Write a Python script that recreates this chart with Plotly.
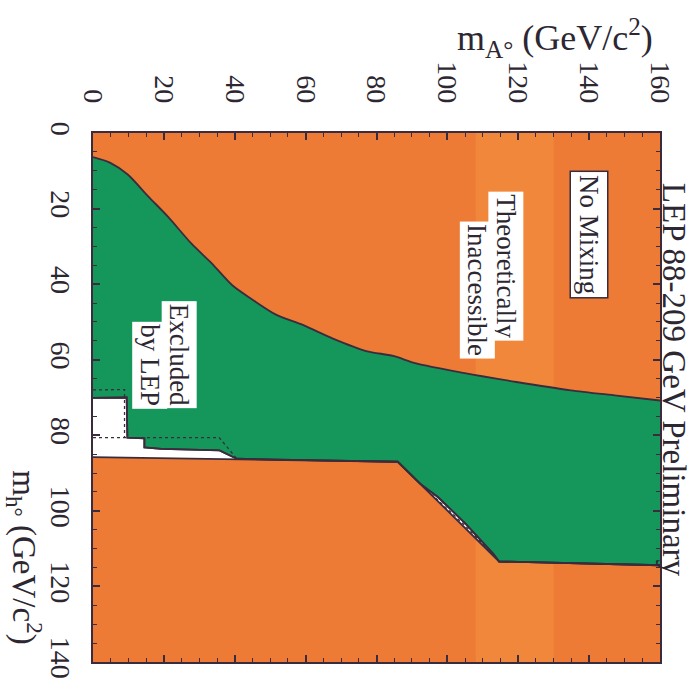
import plotly.graph_objects as go

# ---- data (m_A on horizontal axis, m_h on vertical axis, GeV/c^2) ----
# theoretical boundary (upper edge of the excluded area)
ma_upper = [0, 4.9, 9.8, 15.5, 21.2, 27.8, 33.5, 39.3, 45.0, 51.5, 59.2, 67.7,
            77.1, 84.7, 91.2, 104.5, 119.5, 134.8, 147.8, 160]
mh_upper = [6.4, 7.9, 11.0, 16.7, 22.2, 29.3, 34.5, 40.3, 44.1, 48.0, 50.8, 54.4,
            57.7, 59.0, 61.0, 63.5, 65.9, 68.1, 69.5, 70.8]

# observed LEP exclusion boundary (solid line, lower edge of green)
ma_obs = [0, 9.5, 9.7, 14.5, 14.5, 19.3, 35.7, 40.5, 59.7, 86.0, 92.3, 97.4,
          105.1, 112.9, 114.6, 160]
mh_obs = [70.1, 70.0, 80.6, 80.8, 83.2, 83.6, 84.0, 86.2, 86.6, 87.0, 92.8, 96.4,
          103.4, 111.3, 113.4, 114.4]

# theoretical maximum of m_h (upper edge of lower inaccessible area)
ma_max = [0, 59.7, 86.0, 114.6, 160]
mh_max = [85.8, 86.6, 87.0, 113.4, 114.4]

# expected exclusion (dashed)
ma_exp = [0, 8.9, 8.9, None, 0, 35.6, 40.5, None, 93.0, 105.1, 112.0]
mh_exp = [68.0, 67.9, 80.6, None, 80.6, 80.6, 86.1, None, 93.4, 104.0, 110.7]

# lighter band in the inaccessible region
band_ma = [108, 130]

x_ticks = [0, 20, 40, 60, 80, 100, 120, 140, 160]
y_ticks = [0, 20, 40, 60, 80, 100, 120, 140]

ORANGE = "#EE7B35"
BAND = "#F0873A"
GREEN = "#15975B"
DARK = "#3a2c3c"
TXT = "#2d2732"
FONT = "Liberation Serif"

fig = go.Figure()

# allowed (white) region between observed limit and theoretical max
fig.add_trace(go.Scatter(
    x=ma_obs + ma_max[::-1], y=mh_obs + mh_max[::-1],
    mode="lines", fill="toself", fillcolor="white",
    line=dict(width=0), hoverinfo="skip", showlegend=False))

# observed boundary (solid line) then green fill up to the smooth theory curve
fig.add_trace(go.Scatter(x=ma_obs, y=mh_obs, mode="lines",
                         line=dict(color=DARK, width=1.8),
                         hoverinfo="skip", showlegend=False))
fig.add_trace(go.Scatter(x=ma_upper, y=mh_upper, mode="lines",
                         line=dict(color=DARK, width=1.8, shape="spline",
                                   smoothing=0.8),
                         fill="tonexty", fillcolor=GREEN,
                         hoverinfo="skip", showlegend=False))
# redraw solid boundaries on top of the fill
fig.add_trace(go.Scatter(x=ma_obs, y=mh_obs, mode="lines",
                         line=dict(color=DARK, width=1.8),
                         hoverinfo="skip", showlegend=False))
fig.add_trace(go.Scatter(x=ma_max, y=mh_max, mode="lines",
                         line=dict(color=DARK, width=1.8),
                         hoverinfo="skip", showlegend=False))

fig.add_trace(go.Scatter(x=ma_exp, y=mh_exp, mode="lines",
                         line=dict(color=DARK, width=1.3, dash="3px,3px"),
                         hoverinfo="skip", showlegend=False, connectgaps=False))

fig.add_shape(type="rect", xref="x", yref="y",
              x0=band_ma[0], x1=band_ma[1], y0=0, y1=140,
              fillcolor=BAND, line=dict(width=0), layer="below")

axis_common = dict(
    showgrid=False, zeroline=False,
    showline=True, linecolor=DARK, linewidth=2, mirror="ticks",
    ticks="inside", ticklen=7, tickwidth=1.5, tickcolor=DARK,
    tickangle=90,
    tickfont=dict(family=FONT, size=28, color=TXT),
    minor=dict(tick0=0, dtick=5, ticks="inside", ticklen=4,
               tickwidth=1, tickcolor=DARK),
)

fig.update_layout(
    width=696, height=695,
    margin=dict(l=93, r=36, t=133, b=33),
    paper_bgcolor="white", plot_bgcolor=ORANGE,
    xaxis=dict(range=[0, 160], side="top", tickmode="array",
               tickvals=x_ticks, ticktext=[str(v) for v in x_ticks],
               ticklabelstandoff=18, **axis_common),
    yaxis=dict(range=[140, 0], tickmode="array",
               tickvals=y_ticks, ticktext=[str(v) for v in y_ticks],
               ticklabelstandoff=6, **axis_common),
)

ann_font = dict(family=FONT, size=27, color=TXT)

annotations = [
    # axis titles
    dict(text="m<sub>A°</sub> (GeV/c<sup>2</sup>)", xref="paper", yref="paper",
         x=0.815, y=1.18, xanchor="center", yanchor="middle", showarrow=False,
         font=dict(family=FONT, size=36, color=TXT)),
    dict(text="m<sub>h°</sub> (GeV/c<sup>2</sup>)", xref="paper", yref="paper",
         x=-0.12, y=0.198, xanchor="center", yanchor="middle", showarrow=False,
         textangle=90, font=dict(family=FONT, size=33, color=TXT)),
    dict(text="LEP 88-209 GeV Preliminary", xref="paper", yref="paper",
         x=1.025, y=0.533, xanchor="center", yanchor="middle", showarrow=False,
         textangle=90, font=dict(family=FONT, size=33, color=TXT)),
    # labels inside the plot
    dict(text="No Mixing", x=140.1, y=27.0, showarrow=False, textangle=90,
         bgcolor="white", bordercolor=DARK, borderwidth=1.5, borderpad=3,
         font=ann_font),
    dict(text="Theoretically", x=116.5, y=35.2, showarrow=False, textangle=90,
         bgcolor="white", borderpad=2, font=ann_font),
    dict(text="Inaccessible", x=108.4, y=41.6, showarrow=False, textangle=90,
         bgcolor="white", borderpad=2, font=ann_font),
    dict(text="Excluded", x=24.2, y=58.6, showarrow=False, textangle=90,
         bgcolor="white", borderpad=2, font=ann_font),
    dict(text="by LEP", x=16.0, y=61.4, showarrow=False, textangle=90,
         bgcolor="white", borderpad=2, font=ann_font),
]
fig.update_layout(annotations=annotations)

fig.write_html("out.html")
